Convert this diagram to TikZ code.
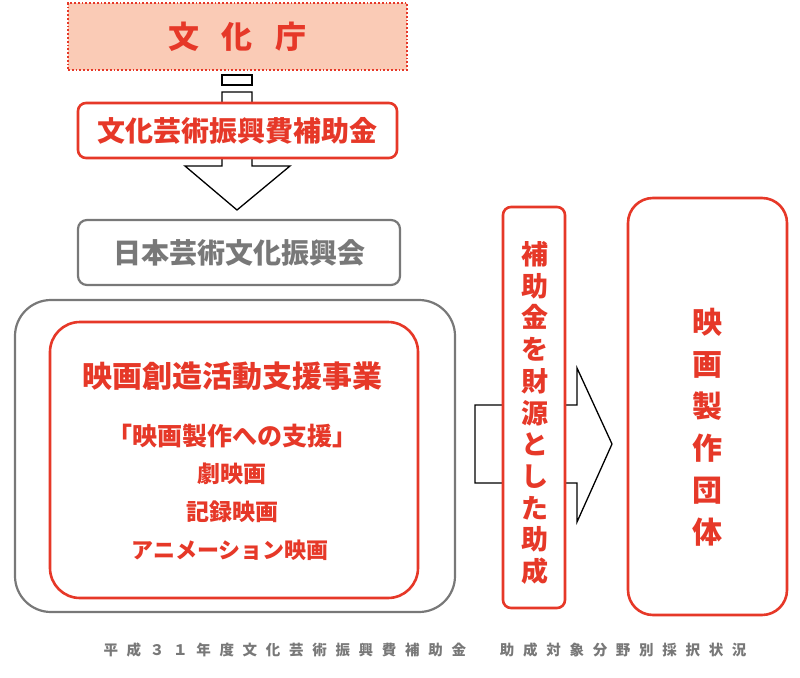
\documentclass[tikz,border=0pt]{standalone}
\usepackage{fontspec}
\setmainfont{Noto Sans CJK JP}
\usetikzlibrary{positioning, calc}

\definecolor{jred}{RGB}{230,56,40}
\definecolor{jsalmon}{RGB}{250,203,182}
\definecolor{jgray}{RGB}{120,120,120}

\begin{document}
\begin{tikzpicture}[
  x=1pt, y=-1pt,
  font=\bfseries,
  redbox/.style={draw=jred, line width=2.6pt, fill=white, text=jred, align=center, inner sep=0pt},
  graybox/.style={draw=jgray, line width=2.2pt, fill=white, text=jgray, align=center, inner sep=0pt},
  blockarrow/.style={draw=black, line width=1.3pt, fill=white, line join=miter},
  redtext/.style={text=jred, inner sep=0pt, anchor=center}
]
\useasboundingbox (0,0) rectangle (800,677);

% agency at the top
\node[draw=jred, dotted, line width=1.8pt, fill=jsalmon, text=jred,
  minimum width=339pt, minimum height=67pt, inner sep=0pt,
  font=\bfseries\fontsize{31}{36}\selectfont\addfontfeature{LetterSpace=72}]
  (agency) at (237.5,36.5) {文化庁};

% down arrow, its shaft runs behind the subsidy box
\draw[blockarrow] (222,75) rectangle (252,85);
\draw[blockarrow] (222,92) -- (252,92) -- (252,166) -- (290,166) -- (237,210)
  -- (185,166) -- (222,166) -- cycle;

\node[redbox, rounded corners=8pt, minimum width=319pt, minimum height=55pt,
  font=\bfseries\fontsize{28}{32}\selectfont] (subsidy) at (237.5,130.5) {文化芸術振興費補助金};

\node[graybox, rounded corners=9pt, minimum width=322pt, minimum height=65pt,
  font=\bfseries\fontsize{28}{32}\selectfont] (jac) at (239,252.5) {日本芸術文化振興会};

% programme block
\node[graybox, rounded corners=36pt, minimum width=440pt, minimum height=312pt] (outer) at (235,456) {};
\node[redbox, rounded corners=30pt, minimum width=368pt, minimum height=276pt] (inner) at (234,460) {};

\node[redtext, font=\bfseries\fontsize{30}{34}\selectfont] (prog) at (232,376) {映画創造活動支援事業};
\node[redtext, font=\bfseries\fontsize{25}{30}\selectfont] (aid) at (232,436) {「映画製作への支援」};
\node[redtext, font=\bfseries\fontsize{23}{28}\selectfont] (drama) at (232,474) {劇映画};
\node[redtext, font=\bfseries\fontsize{23}{28}\selectfont] (docu) at (232,512) {記録映画};
\node[redtext, font=\bfseries\fontsize{22}{27}\selectfont] (anime) at (230,550) {アニメーション映画};

% right arrow, partly hidden by the grant box
\coordinate (rtail) at (475,444);
\coordinate (rtip) at (612,444);
\draw[blockarrow] ($(rtail)+(0,-39)$) -- ($(rtip)+(-35,-39)$) -- ($(rtip)+(-35,-76)$) -- (rtip)
  -- ($(rtip)+(-35,78)$) -- ($(rtip)+(-35,39)$) -- ($(rtail)+(0,39)$) -- cycle;

\node[redbox, rounded corners=8pt, minimum width=62pt, minimum height=401pt] (grant) at (534,407.5) {};
\node[redtext, align=center, font=\bfseries\fontsize{27}{31.7}\selectfont] (granttxt) at (535,413)
  {補\\助\\金\\を\\財\\源\\と\\し\\た\\助\\成};

\node[redbox, rounded corners=25pt, minimum width=159pt, minimum height=417pt] (maker) at (707.5,406.5) {};
\node[redtext, align=center, font=\bfseries\fontsize{30}{42}\selectfont] (makertxt) at (707,427)
  {映\\画\\製\\作\\団\\体};

% caption
\node[text=jgray, inner sep=0pt, font=\bfseries\fontsize{14.5}{16}\selectfont\addfontfeature{LetterSpace=60}]
  (caption) at (425,650) {平成３１年度文化芸術振興費補助金\hspace{34pt}助成対象分野別採択状況};

\end{tikzpicture}
\end{document}
